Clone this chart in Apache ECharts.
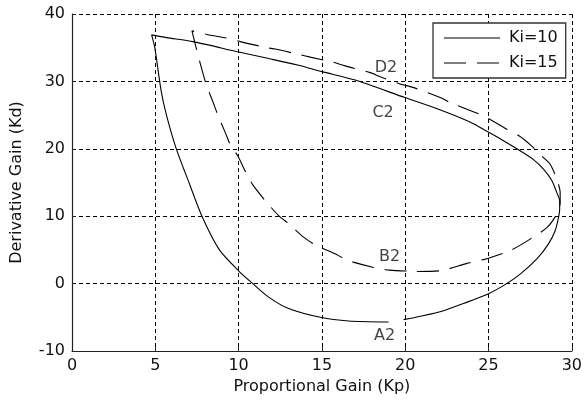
<!DOCTYPE html>
<html>
<head>
<meta charset="utf-8">
<script src="https://cdn.jsdelivr.net/npm/echarts@6/dist/echarts.min.js"></script>
<style>
html,body{margin:0;padding:0;background:#fff;}
#chart{width:585px;height:401px;}
</style>
</head>
<body>
<div id="chart"></div>
<script>
// Ki = 10 curve (solid)
const ki10Kp = [19.9, 21.0, 22.2, 23.55, 24.9, 25.9, 26.9, 27.9, 28.6, 29.0, 29.2, 29.27, 29.27, 29.1, 28.8, 28.3, 27.7, 26.9, 25.9, 24.9, 23.95, 21.96, 19.98, 17.0, 15.0, 13.6, 11.6, 9.94, 7.26, 5.67, 4.78, 4.97, 5.35, 5.67, 6.26, 7.02, 7.8, 8.85, 10.0, 10.85, 11.8, 13.0, 14.9, 16.6, 19.0];
const ki10Kd = [-5.35, -4.8, -4.1, -2.9, -1.6, -0.3, 1.4, 3.65, 5.9, 7.85, 9.8, 11.0, 12.3, 13.5, 15.3, 17.0, 18.4, 19.7, 21.2, 22.6, 23.9, 25.9, 27.6, 30.2, 31.45, 32.4, 33.5, 34.4, 35.9, 36.5, 36.9, 35.0, 28.6, 25.0, 20.0, 15.0, 10.0, 5.0, 1.9, 0.0, -2.0, -3.7, -5.0, -5.55, -5.7];
// Ki = 15 curve (dashed)
const ki15Kp = [20.7, 22.1, 23.7, 24.9, 26.3, 27.5, 28.5, 29.1, 29.3, 29.3, 29.05, 28.7, 28.25, 27.6, 26.85, 26.1, 24.7, 24.2, 22.75, 22.1, 20.6, 19.6, 18.5, 17.9, 16.4, 15.6, 14.3, 13.6, 12.2, 11.7, 10.1, 9.64, 8.05, 7.2, 7.4, 7.66, 8.05, 8.44, 8.74, 9.2, 9.54, 9.94, 10.53, 10.9, 11.6, 12.4, 13.0, 13.9, 14.5, 15.0, 16.0, 16.6, 18.1, 19.05, 20.7];
const ki15Kd = [1.8, 1.9, 3.0, 3.7, 4.9, 6.6, 8.3, 10.3, 12.0, 13.5, 15.8, 17.7, 18.8, 20.4, 21.9, 22.9, 24.9, 25.4, 26.8, 27.6, 29.0, 29.7, 30.7, 31.3, 32.3, 32.9, 33.6, 34.0, 34.8, 35.0, 35.9, 36.25, 37.0, 37.5, 35.5, 33.0, 29.6, 27.1, 25.1, 22.4, 20.4, 19.0, 16.0, 14.5, 12.3, 10.1, 8.9, 6.9, 5.9, 5.3, 4.15, 3.4, 2.4, 2.0, 1.8];
// point annotations
const pointNames = ['D2', 'C2', 'B2', 'A2'];
const pointKp = [18.85, 18.67, 19.06, 18.76];
const pointKd = [32.0, 25.4, 3.9, -7.7];
// axes
const xMin = 0, xMax = 30, xStep = 5;
const yMin = -10, yMax = 40, yStep = 10;
// legend
const seriesNames = ['Ki=10', 'Ki=15'];

const zip = (a, b) => a.map((v, i) => [v, b[i]]);
const FONT = 'DejaVu Sans';
const TXT = '#111';
const SOLID_ICON = 'path://M0,0H56V1.2H0Z';
const DASH_ICON = 'path://M0,0H22V1.2H0Z M33,0H55V1.2H33Z M55,0H56V0.01H55Z';

const chart = echarts.init(document.getElementById('chart'), null, {renderer: 'canvas'});
chart.setOption({
  animation: false,
  backgroundColor: '#fff',
  grid: {left: 72, right: 10, top: 14, bottom: 50, containLabel: false},
  xAxis: {
    type: 'value', min: xMin, max: xMax, interval: xStep,
    name: 'Proportional Gain (Kp)', nameLocation: 'middle', nameGap: 21,
    nameTextStyle: {fontFamily: FONT, fontSize: 16, color: TXT},
    axisLine: {show: true, onZero: false, lineStyle: {color: '#222', width: 1.2}},
    axisTick: {show: true, inside: true, length: 4, lineStyle: {color: '#222'}},
    axisLabel: {fontFamily: FONT, fontSize: 16, color: TXT, margin: 7},
    splitLine: {show: true, lineStyle: {color: '#000', width: 1, type: [4, 3]}}
  },
  yAxis: {
    type: 'value', min: yMin, max: yMax, interval: yStep,
    name: 'Derivative Gain (Kd)', nameLocation: 'middle', nameGap: 47,
    nameTextStyle: {fontFamily: FONT, fontSize: 16, color: TXT},
    axisLine: {show: true, onZero: false, lineStyle: {color: '#222', width: 1.2}},
    axisTick: {show: true, inside: true, length: 4, lineStyle: {color: '#222'}},
    axisLabel: {fontFamily: FONT, fontSize: 16, color: TXT, margin: 7},
    splitLine: {show: true, lineStyle: {color: '#000', width: 1, type: [4, 3]}}
  },
  legend: {
    data: [
      {name: seriesNames[0], icon: SOLID_ICON},
      {name: seriesNames[1], icon: DASH_ICON}
    ],
    orient: 'vertical', left: 433, top: 23,
    padding: [7, 8, 7, 11],
    itemGap: 9, itemWidth: 56, itemHeight: 1.2,
    itemStyle: {color: '#000', borderWidth: 0},
    lineStyle: {width: 0},
    backgroundColor: '#fff', borderColor: '#333', borderWidth: 1.3, borderRadius: 0,
    textStyle: {fontFamily: FONT, fontSize: 16, color: TXT, lineHeight: 16, padding: [0, 0, 0, 4]}
  },
  series: [
    {
      name: seriesNames[0], type: 'line', symbol: 'none', showSymbol: false, smooth: 0.25,
      data: zip(ki10Kp, ki10Kd),
      lineStyle: {color: '#000', width: 1.1, type: 'solid'},
      itemStyle: {color: '#000'}
    },
    {
      name: seriesNames[1], type: 'line', symbol: 'none', showSymbol: false, smooth: 0.25,
      data: zip(ki15Kp, ki15Kd),
      lineStyle: {color: '#000', width: 1.1, type: [22, 11]},
      itemStyle: {color: '#000'}
    },
    {
      name: 'points', type: 'scatter', symbolSize: 0,
      data: pointNames.map((n, i) => ({value: [pointKp[i], pointKd[i]], name: n})),
      label: {show: true, position: 'inside', formatter: p => p.name,
        fontFamily: FONT, fontSize: 16, color: TXT},
      silent: true
    }
  ]
});
</script>
</body>
</html>
